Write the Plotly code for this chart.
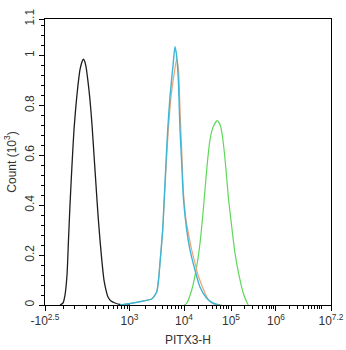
import numpy as np
import plotly.graph_objects as go

# Histogram curves in display channels (0-1024 biexponential scale) vs. count (x10^3)
black_ch = [53.7, 64.4, 71.6, 78.8, 84.1, 89.5, 96.7, 103.8, 111.0, 118.2, 125.3, 132.5,
            137.1, 141.4, 146.8, 154.0, 161.1, 168.3, 175.4, 182.6, 189.8, 196.9, 204.1,
            211.2, 218.4, 225.6, 236.3, 250.6, 268.5, 304.3]
black_ct = [0.0, 0.008, 0.040, 0.120, 0.261, 0.401, 0.562, 0.702, 0.802, 0.882, 0.943, 0.975,
            0.985, 0.979, 0.955, 0.895, 0.822, 0.722, 0.602, 0.481, 0.361, 0.261, 0.172,
            0.100, 0.060, 0.032, 0.016, 0.008, 0.002, 0.0]

cyan_ch = [268.5, 304.3, 351.9, 382.0, 399.9, 406.4, 411.7, 421.4, 427.1, 433.2, 439.3, 447.5,
           459.3, 465.4, 470.8, 477.3, 483.4, 489.4, 495.2, 507.3, 519.1, 537.0, 554.9, 578.9,
           602.6, 626.5]
cyan_ct = [0.0, 0.006, 0.016, 0.024, 0.052, 0.100, 0.168, 0.301, 0.433, 0.570, 0.702, 0.834,
           0.971, 1.035, 1.003, 0.903, 0.702, 0.570, 0.433, 0.301, 0.221, 0.140, 0.072, 0.027,
           0.007, 0.0]

orange_ch = [268.5, 304.3, 351.9, 382.0, 399.9, 406.4, 411.7, 421.4, 427.9, 434.3, 441.5,
             451.2, 461.9, 471.5, 478.0, 483.4, 489.4, 495.2, 504.8, 513.1, 525.2, 537.0,
             547.8, 561.0, 572.8, 583.6, 597.9, 612.2, 633.7]
orange_ct = [0.0, 0.006, 0.016, 0.024, 0.052, 0.100, 0.168, 0.301, 0.433, 0.570, 0.702,
             0.834, 0.923, 0.986, 0.943, 0.782, 0.622, 0.461, 0.341, 0.289, 0.221, 0.168,
             0.120, 0.080, 0.048, 0.024, 0.008, 0.002, 0.0]

green_ch = [498.7, 507.3, 525.2, 543.1, 554.9, 564.6, 572.8, 581.1, 590.7, 602.6, 616.9,
            629.1, 638.4, 648.1, 656.3, 668.5, 680.3, 695.7, 710.0, 724.3, 727.9]
green_ct = [0.0, 0.007, 0.060, 0.154, 0.247, 0.354, 0.461, 0.568, 0.662, 0.715, 0.739,
            0.715, 0.649, 0.542, 0.434, 0.314, 0.207, 0.114, 0.047, 0.007, 0.0]

# Axis scale definition: decade anchors (log10 value -> channel)
decade_log = [3, 4, 5, 6, 7.2]
decade_ch = [302.5, 497.7, 666.0, 827.0, 1024.0]
x_tick_values = [-10 ** 2.5, 1e3, 1e4, 1e5, 1e6, 10 ** 7.2]
x_tick_text = ["-10<sup>2.5</sup>", "10<sup>3</sup>", "10<sup>4</sup>", "10<sup>5</sup>",
               "10<sup>6</sup>", "10<sup>7.2</sup>"]
y_tick_values = [0, 0.2, 0.4, 0.6, 0.8, 1.0, 1.146]
y_tick_text = ["0", "0.2", "0.4", "0.6", "0.8", "1", "1.1"]

LIN_SCALE = 84.7
LIN_WIDTH = 198.0


def to_channel(v):
    v = float(v)
    if v < 1000:
        return decade_ch[0] + LIN_SCALE * (np.arcsinh(v / LIN_WIDTH) - np.arcsinh(1000 / LIN_WIDTH))
    return float(np.interp(np.log10(v), decade_log, decade_ch))


major_pos = [to_channel(v) for v in x_tick_values]
major_pos[0] = 0.0
minor_vals = [-100, 0] + [m * 100 for m in range(1, 10)]
for k in range(3, 7):
    for m in range(2, 10):
        if m * 10 ** k < 10 ** 7.2:
            minor_vals.append(m * 10 ** k)
minor_vals.append(1e7)
minor_pos = [to_channel(v) for v in minor_vals]

fig = go.Figure()
for xs, ys, col, w in [(black_ch, black_ct, "#1e1e1e", 1.3),
                       (green_ch, green_ct, "#5fd85a", 1.2),
                       (orange_ch, orange_ct, "#f0a274", 1.2),
                       (cyan_ch, cyan_ct, "#3cb6d6", 1.4)]:
    fig.add_trace(go.Scatter(x=xs, y=ys, mode="lines",
                             line=dict(color=col, width=w, shape="spline", smoothing=0.6),
                             hoverinfo="skip", showlegend=False))

font = dict(family="Liberation Sans, Arial, sans-serif", size=12, color="#333333")
fig.update_layout(
    width=346, height=350,
    margin=dict(l=45, r=15, t=19, b=45),
    paper_bgcolor="white", plot_bgcolor="white",
    font=font,
    xaxis=dict(range=[0, 1024], tickmode="array", tickvals=major_pos, ticktext=x_tick_text,
               ticks="outside", ticklen=5, tickwidth=1, tickcolor="#000",
               showline=True, linecolor="#000", linewidth=1, mirror=True,
               showgrid=False, zeroline=False, tickfont=font, automargin=False,
               minor=dict(tickmode="array", tickvals=minor_pos, ticks="outside",
                          ticklen=3, tickcolor="#000", showgrid=False),
               title=dict(text="PITX3-H", font=font, standoff=8)),
    yaxis=dict(range=[0, 1.146], tickmode="array", tickvals=y_tick_values, ticktext=y_tick_text,
               ticks="outside", ticklen=5, tickwidth=1, tickcolor="#000", tickangle=-90,
               showline=True, linecolor="#000", linewidth=1, mirror=True,
               showgrid=False, zeroline=False, tickfont=font, automargin=False,
               minor=dict(dtick=0.04, tick0=0, ticks="outside", ticklen=3,
                          tickcolor="#000", showgrid=False),
               title=dict(text="Count (10<sup>3</sup>)", font=font, standoff=4)),
)

fig.write_html("out.html")
